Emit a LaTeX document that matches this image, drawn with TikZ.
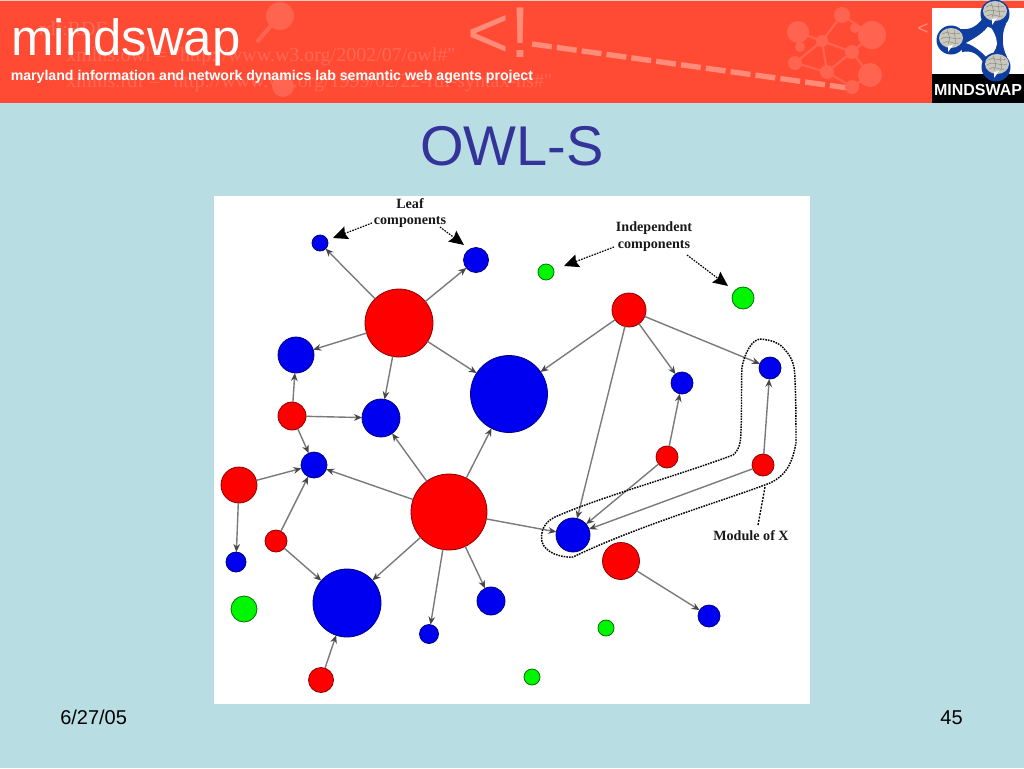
\documentclass[tikz,border=0pt]{standalone}
\usepackage{fontspec}
\setmainfont{Liberation Sans}
\newfontfamily\serifb{Liberation Serif}
\usetikzlibrary{arrows.meta}
\definecolor{bgc}{RGB}{184,222,227}
\definecolor{headc}{RGB}{255,75,51}
\definecolor{wmk}{RGB}{255,100,80}
\definecolor{wmtxt}{RGB}{255,104,84}
\definecolor{dashc}{RGB}{255,140,120}
\definecolor{titlec}{RGB}{51,51,153}
\definecolor{logoblue}{RGB}{16,62,160}
\definecolor{brainc}{RGB}{200,200,188}
\definecolor{nblue}{RGB}{0,0,240}
\definecolor{nred}{RGB}{255,0,0}
\definecolor{ngreen}{RGB}{0,245,0}
\tikzset{
  x=0.75pt,y=-0.75pt,
  nodeb/.style={circle,inner sep=0pt,outer sep=0pt,fill=nblue,draw=blue!50!black,line width=0.6pt},
  noder/.style={circle,inner sep=0pt,outer sep=0pt,fill=nred,draw=red!55!black,line width=0.6pt},
  nodeg/.style={circle,inner sep=0pt,outer sep=0pt,fill=ngreen,draw=green!45!black,line width=0.6pt},
  edgeg/.style={draw=black!52,line width=1.05pt,-{Stealth[length=6pt,width=5pt,color=black!72]}},
  callout/.style={draw=black,line width=0.9pt,dash pattern=on 1.2pt off 0.9pt,-{Stealth[length=11pt,width=10pt,inset=1.5pt,color=black]}},
  labelt/.style={font=\serifb\bfseries\fontsize{10.6}{12.7}\selectfont,align=center,inner sep=0pt,text=black!90},
  wmtext/.style={font=\serifb\fontsize{15}{15}\selectfont,text=wmtxt,inner sep=0pt},
  wmblob/.style={fill=wmk,draw=none},
  wmline/.style={draw=wmk,line width=1.6pt},
}
\newcommand{\nd}[5]{\node[#1,minimum size=#5*0.75pt] (#2) at (#3,#4) {};}
\newcommand{\brain}[2]{%
  \fill[brainc] (#1,#2) ellipse [x radius=12,y radius=10];
  \draw[black!50,line width=0.3pt] (#1-9,#2-4) .. controls (#1-4,#2-8) and (#1+2,#2-2) .. (#1+9,#2-5)
    (#1-10,#2+1) .. controls (#1-4,#2-4) and (#1+3,#2+3) .. (#1+10,#2)
    (#1-8,#2+5) .. controls (#1-3,#2+1) and (#1+3,#2+7) .. (#1+8,#2+5)
    (#1-4,#2-8) .. controls (#1-2,#2-3) and (#1,#2+1) .. (#1-3,#2+6)
    (#1+4,#2-8) .. controls (#1+2,#2-3) and (#1+6,#2+1) .. (#1+4,#2+6);
  \fill[white] (#1-3,#2+8) -- (#1+2,#2+7) -- (#1-3,#2+14) -- cycle;}
\begin{document}
\begin{tikzpicture}
\useasboundingbox (0,0) rectangle (1024,768);
\fill[bgc] (0,0) rectangle (1024,768);
% header band
\fill[headc] (0,1) rectangle (1024,103);
\fill[white!70!headc] (0,0) rectangle (1024,1);
% watermark, left
\draw[wmline,line width=3pt] (280,15) -- (257,42);
\fill[wmblob] (280,16) circle [radius=14];
\fill[wmblob] (283,86) circle [radius=11];
\node[wmtext,anchor=base east] at (107,35) {rdf:RDF};
\node[wmtext,anchor=base west] at (66,61) {xmlns:owl = "http://www.w3.org/2002/07/owl\#"};
\node[wmtext,anchor=base west] at (66,87) {xmlns:rdf = "http://www.w3.org/1999/02/22-rdf-syntax-ns\#"};
% watermark <!-- and dashes
\node[font=\fontsize{54}{54}\selectfont,text=dashc,inner sep=0pt] at (499,33) {<!};
\draw[dashc,line width=4pt,dash pattern=on 15pt off 3.8pt] (532,44) -- (848,88);
\node[font=\fontsize{14}{14}\selectfont,text=dashc,inner sep=0pt] at (923,29) {<};
% watermark network, right
\draw[wmline] (842,15) -- (822,41) -- (798,32) (842,15) -- (872,35) -- (852,52) -- (822,41)
  (852,52) -- (827,72) -- (795,63) -- (822,41) (827,72) -- (822,41) (852,52) -- (870,75) -- (852,87) -- (827,72);
\foreach \x/\y/\r in {842/15/8,798/32/11,822/41/6,872/35/14,855/28/5,852/52/7,800/47/5,795/63/7,827/72/7,870/75/12,852/87/7}
  \fill[wmblob] (\x,\y) circle [radius=\r];
% header texts
\node[font=\fontsize{38.2}{38.2}\selectfont,text=white,anchor=base west,inner sep=0pt] at (11,55) {mindswap};
\node[font=\bfseries\fontsize{10.6}{12}\selectfont,text=white,anchor=base west,inner sep=0pt] at (10.5,80) {maryland information and network dynamics lab semantic web agents project};
% logo
\fill[white] (932,8) rectangle (1024,74);
\fill[black] (932,74) rectangle (1024,103);
\fill[logoblue] (960,29) .. controls (968,30) and (976,28) .. (983,18)
  -- (1006,24) .. controls (1002,32) and (1001,46) .. (1007,57)
  -- (983,62) .. controls (978,54) and (972,50) .. (962,52) -- cycle;
\fill[white] (989,25) .. controls (993,30) and (997,37) .. (997,44) .. controls (996,50) and (992,55) .. (988,59)
  .. controls (982,52) and (975,46) .. (966,43) .. controls (975,38) and (984,33) .. (989,25) -- cycle;
\fill[logoblue] (995,14) circle [radius=14.5] (951,40) circle [radius=14.5] (996,67) circle [radius=14.5];
\brain{995}{11}
\brain{951}{38}
\brain{997}{64}
\node[font=\bfseries\fontsize{12}{12}\selectfont,text=white,inner sep=0pt] at (978,89.5) {MINDSWAP};
% title and footer
\node[font=\fontsize{42}{42}\selectfont,text=titlec,inner sep=0pt,anchor=base] at (512,165) {OWL-S};
\node[font=\fontsize{15}{16}\selectfont,text=black,inner sep=0pt,anchor=base west] at (60,724) {6/27/05};
\node[font=\fontsize{15}{16}\selectfont,text=black,inner sep=0pt,anchor=base east] at (963,724) {45};
% white panel
\fill[white] (214,196) rectangle (810,704);
% blue nodes
\nd{nodeb}{b1}{320}{243}{16}
\nd{nodeb}{b2}{476}{260}{25}
\nd{nodeb}{b3}{296}{355}{36}
\nd{nodeb}{b4}{381}{418}{38}
\nd{nodeb}{b5}{509}{394}{77}
\nd{nodeb}{b6}{314}{465}{26}
\nd{nodeb}{b7}{236}{562}{20}
\nd{nodeb}{b8}{347}{603}{68}
\nd{nodeb}{b9}{491}{601}{28}
\nd{nodeb}{b10}{429}{634}{19}
\nd{nodeb}{b11}{573}{535}{34}
\nd{nodeb}{b12}{682}{383}{22}
\nd{nodeb}{b13}{770}{368}{22}
\nd{nodeb}{b14}{709}{616}{22}
% red nodes
\nd{noder}{r1}{399}{323}{68}
\nd{noder}{r2}{292}{416}{28}
\nd{noder}{r3}{239}{485}{36}
\nd{noder}{r4}{276}{541}{22}
\nd{noder}{r5}{449}{512}{76}
\nd{noder}{r6}{321}{680}{25}
\nd{noder}{r7}{629}{310}{34}
\nd{noder}{r8}{667}{457}{22}
\nd{noder}{r9}{763}{465}{22}
\nd{noder}{r10}{621}{561}{37}
% green nodes
\nd{nodeg}{g1}{546}{272}{16}
\nd{nodeg}{g2}{743}{298}{22}
\nd{nodeg}{g3}{244}{609}{26}
\nd{nodeg}{g4}{606}{628}{16}
\nd{nodeg}{g5}{532}{677}{16}
% edges
\foreach \a/\b in {r1/b1,r1/b2,r1/b3,r1/b4,r1/b5,r2/b3,r2/b4,r2/b6,r3/b6,r3/b7,r4/b6,r4/b8,
  r5/b6,r5/b4,r5/b5,r5/b8,r5/b10,r5/b9,r5/b11,r6/b8,r7/b5,r7/b11,r7/b12,r7/b13,r8/b12,r8/b11,r9/b13,r9/b11,r10/b14}
  \draw[edgeg] (\a) -- (\b);
% module outline
\draw[black,line width=1.1pt,dash pattern=on 1.2pt off 0.8pt]
  (760,339) .. controls (772,340) and (780,343) .. (785,350) .. controls (793,358) and (795,368) .. (795,380)
  .. controls (796,400) and (796,425) .. (796,443) .. controls (792,465) and (785,476) .. (770,483)
  .. controls (720,502) and (640,525) .. (573,557) .. controls (560,558) and (545,552) .. (542,542)
  .. controls (540,530) and (545,522) .. (555,517) .. controls (600,497) and (680,475) .. (733,455)
  .. controls (739,450) and (741,443) .. (741,430) .. controls (742,410) and (741,385) .. (742,367)
  .. controls (745,352) and (752,340) .. (760,339) -- cycle;
% callouts
\coordinate (la) at (372,223);
\coordinate (lb) at (333,238);
\coordinate (lc) at (440,227);
\coordinate (ld) at (464,245);
\coordinate (ia) at (614,247);
\coordinate (ib) at (564,266);
\coordinate (ic) at (687,255);
\coordinate (id) at (728,286);
\coordinate (ma) at (765,487);
\coordinate (mb) at (758,525);
\draw[callout] (la) -- (lb);
\draw[callout] (lc) -- (ld);
\draw[callout] (ia) -- (ib);
\draw[callout] (ic) -- (id);
\draw[black,line width=1pt,dash pattern=on 1.5pt off 1pt] (ma) -- (mb);
% labels
\node[labelt] (leaf) at (410,213) {Leaf\\components};
\node[labelt] (indep) at (654,236.5) {Independent\\components};
\node[labelt] (modx) at (751,535.5) {Module of X};
\end{tikzpicture}
\end{document}
